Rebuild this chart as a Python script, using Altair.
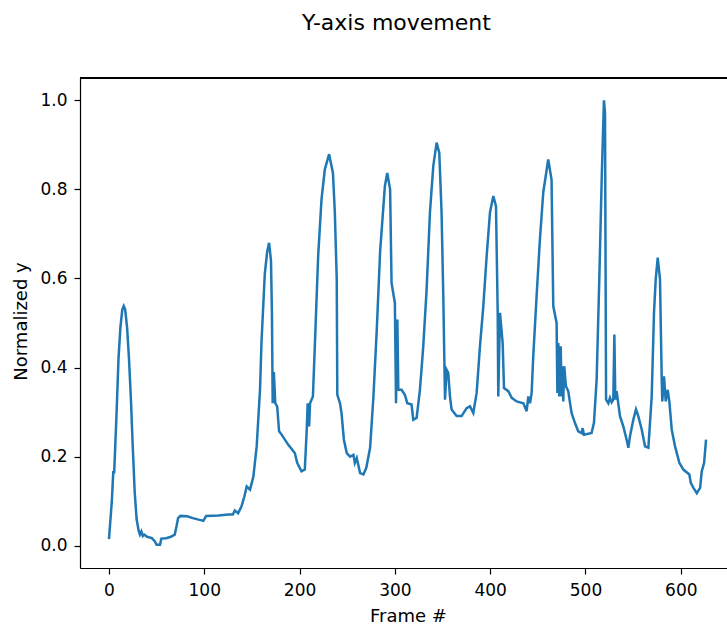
import altair as alt
import pandas as pd

# Frame index and normalized vertical position of the tracked point
frames = [
    0, 3, 4.5, 5.5, 8, 10, 12, 14, 15.5, 17, 19, 21, 23, 25, 27, 29, 31, 32.5, 34, 35.5,
    37, 40, 45, 48, 50, 53.5, 55, 60, 65, 69, 71, 72.5, 75, 82, 88, 95, 99, 102, 115, 125,
    130, 132, 135.5, 139, 142, 144.5, 148, 151.5, 155, 158.5, 160, 163.5, 166, 168, 170, 171,
    171.8, 173, 174.5, 176.5, 178.5, 181, 188, 195, 197.5, 202, 205.5, 207.5, 208.5, 210,
    211, 214, 216, 219.5, 223, 226.5, 231, 235, 237, 239, 239.6, 242.4, 244, 246.5, 249.5,
    253, 256.5, 258, 260, 263.5, 267, 270, 274, 277.5, 281, 284.5, 289.5, 292, 295, 296.5,
    300, 301.2, 302.6, 303.6, 307, 310.5, 313, 317.5, 319.3, 322.8, 326.3, 329.8, 333.3,
    336.8, 340.3, 343.8, 346.6, 349, 350.8, 352.6, 354.3, 356, 357.8, 359.5, 364.8, 370,
    375.3, 378.8, 382.3, 385.8, 389.3, 392.8, 396.3, 399.8, 403.3, 406.1, 407.9, 408.5,
    410.3, 413.1, 414.5, 419, 422.6, 427.8, 434.8, 438.3, 440, 441.8, 443.5, 445.2, 448.7,
    452.2, 455.7, 460.9, 464.4, 466.2, 469.7, 470.5, 471.5, 472.5, 474, 475, 476, 476.7,
    477.7, 479.5, 481.9, 485.4, 488.9, 492.4, 495.9, 497, 498.4, 506.4, 508.9, 511.7, 514.5,
    517, 519.4, 520.5, 521.6, 524, 525.7, 527.5, 529.2, 530.3, 531.3, 532.7, 536.2, 539.7,
    543.2, 545, 546.7, 550.2, 553, 555.4, 559, 562.5, 566, 569.5, 571.9, 573.7, 575.8,
    578.2, 580, 580.6, 582.4, 584.2, 586.3, 588, 590.5, 594, 598.5, 602.7, 609, 610.5,
    613.3, 616.8, 620.3, 622, 624.5, 626.5,
]
norm_y = [
    0.015, 0.10, 0.165, 0.165, 0.30, 0.42, 0.49, 0.53, 0.538, 0.53, 0.49, 0.42, 0.33, 0.22,
    0.12, 0.06, 0.035, 0.025, 0.032, 0.022, 0.025, 0.02, 0.017, 0.01, 0.002, 0.002, 0.016,
    0.017, 0.02, 0.025, 0.045, 0.062, 0.067, 0.066, 0.062, 0.058, 0.056, 0.067, 0.068, 0.07,
    0.07, 0.079, 0.073, 0.088, 0.11, 0.133, 0.126, 0.155, 0.223, 0.35, 0.455, 0.61, 0.66,
    0.68, 0.64, 0.52, 0.32, 0.39, 0.32, 0.313, 0.257, 0.25, 0.227, 0.208, 0.186, 0.167,
    0.171, 0.26, 0.32, 0.268, 0.32, 0.335, 0.448, 0.65, 0.777, 0.845, 0.879, 0.837, 0.748,
    0.598, 0.339, 0.32, 0.298, 0.238, 0.208, 0.2, 0.204, 0.186, 0.197, 0.163, 0.16, 0.175,
    0.22, 0.335, 0.485, 0.66, 0.807, 0.837, 0.8, 0.59, 0.545, 0.32, 0.508, 0.35, 0.35,
    0.339, 0.32, 0.317, 0.283, 0.287, 0.35, 0.448, 0.575, 0.748, 0.852, 0.905, 0.882, 0.748,
    0.56, 0.328, 0.395, 0.388, 0.335, 0.306, 0.291, 0.291, 0.309, 0.313, 0.298, 0.343,
    0.448, 0.538, 0.65, 0.748, 0.785, 0.762, 0.523, 0.335, 0.523, 0.455, 0.354, 0.347,
    0.332, 0.324, 0.32, 0.302, 0.335, 0.32, 0.343, 0.425, 0.56, 0.688, 0.793, 0.867, 0.822,
    0.538, 0.5, 0.343, 0.455, 0.335, 0.448, 0.335, 0.403, 0.324, 0.403, 0.358, 0.347,
    0.298, 0.276, 0.257, 0.253, 0.264, 0.249, 0.253, 0.276, 0.373, 0.598, 0.822, 1.0, 0.97,
    0.328, 0.32, 0.332, 0.322, 0.328, 0.474, 0.328, 0.347, 0.291, 0.268, 0.238, 0.22,
    0.246, 0.283, 0.306, 0.291, 0.261, 0.223, 0.22, 0.335, 0.523, 0.598, 0.647, 0.598,
    0.373, 0.324, 0.38, 0.324, 0.35, 0.324, 0.261, 0.223, 0.186, 0.171, 0.16, 0.141, 0.13,
    0.118, 0.13, 0.167, 0.186, 0.238,
]
x_ticks = [0, 100, 200, 300, 400, 500, 600]
y_ticks = [0.0, 0.2, 0.4, 0.6, 0.8, 1.0]

df = pd.DataFrame({"frame": frames, "y": norm_y})

FONT = "DejaVu Sans"
W, H = 647, 490

axis_style = dict(
    grid=False,
    tickSize=6,
    tickWidth=1.2,
    tickColor="black",
    domainColor="black",
    domainWidth=1.2,
    labelColor="black",
    titleColor="black",
    labelFont=FONT,
    titleFont=FONT,
    labelFontSize=17,
    titleFontSize=18,
    titleFontWeight="normal",
    labelFlush=False,
)

line = alt.Chart(df).mark_line(color="#1f77b4", strokeWidth=2.5, clip=True).encode(
    x=alt.X(
        "frame:Q",
        scale=alt.Scale(domain=[-30.4, 648.5], nice=False, zero=False),
        axis=alt.Axis(
            values=x_ticks,
            format="d",
            title="Frame #",
            labelPadding=8,
            titleX=328,
            titleY=53,
            titleBaseline="alphabetic",
            **axis_style,
        ),
    ),
    y=alt.Y(
        "y:Q",
        scale=alt.Scale(domain=[-0.05, 1.05], nice=False, zero=False),
        axis=alt.Axis(
            values=y_ticks,
            format=".1f",
            title="Normalized y",
            labelPadding=7,
            titleX=-59,
            titleY=243,
            titleBaseline="middle",
            titleAngle=-90,
            **axis_style,
        ),
    ),
    order="frame:Q",
)

# Top frame line of the axes box
top_border = alt.Chart(df).mark_rule(color="black", strokeWidth=1.2).encode(
    x=alt.value(0), x2=alt.value(W), y=alt.value(0)
)

chart = (
    alt.layer(line, top_border)
    .properties(
        width=W,
        height=H,
        title=alt.TitleParams(
            "Y-axis movement",
            font=FONT,
            fontSize=22,
            fontWeight="normal",
            color="black",
            anchor="middle",
            baseline="alphabetic",
            offset=25,
            dx=-7,
        ),
        autosize=alt.AutoSizeParams(type="none"),
        padding={"left": 80, "top": 78, "right": 0, "bottom": 57},
    )
    .configure_view(stroke=None)
    .configure(background="white")
)

chart.save("out.html", embed_options={"renderer": "svg", "actions": False})
